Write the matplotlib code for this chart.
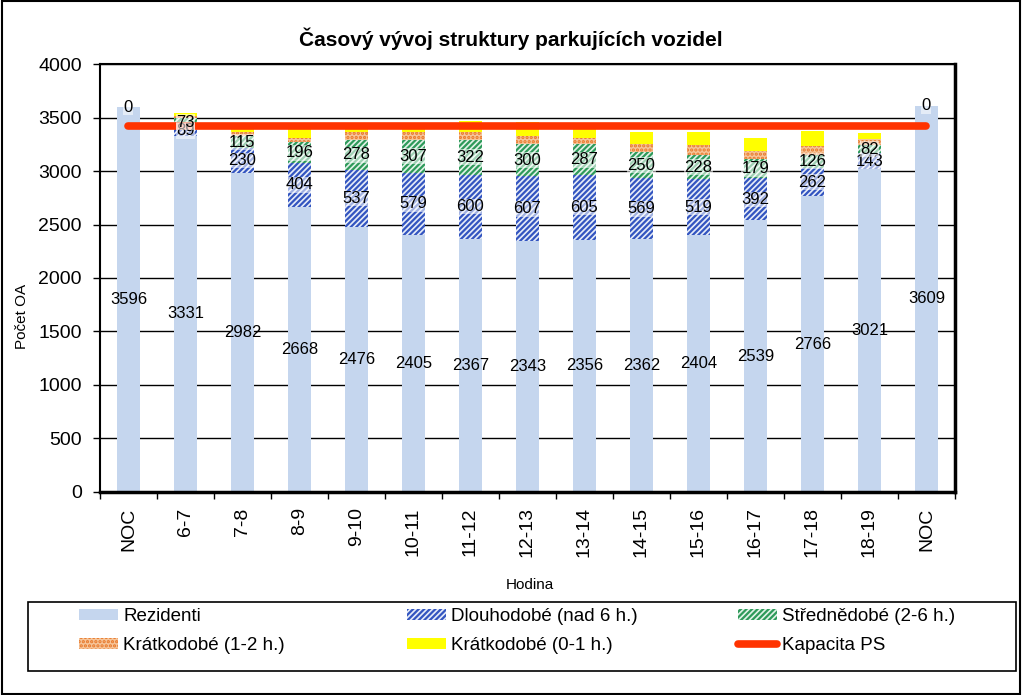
import matplotlib.pyplot as plt
import numpy as np
from matplotlib.patches import Rectangle

plt.rcParams['font.family'] = ['Liberation Sans', 'DejaVu Sans']
plt.rcParams['hatch.linewidth'] = 1.6

# data
hodiny = ["NOC", "6-7", "7-8", "8-9", "9-10", "10-11", "11-12", "12-13", "13-14",
          "14-15", "15-16", "16-17", "17-18", "18-19", "NOC"]
rezidenti = [3596, 3331, 2982, 2668, 2476, 2405, 2367, 2343, 2356, 2362, 2404, 2539, 2766, 3021, 3609]
dlouhodobe = [0, 89, 230, 404, 537, 579, 600, 607, 605, 569, 519, 392, 262, 143, 0]
strednedobe = [0, 73, 115, 196, 278, 307, 322, 300, 287, 250, 228, 179, 126, 82, 0]
kratko_12 = [0, 20, 35, 40, 70, 75, 78, 77, 61, 72, 89, 81, 78, 57, 0]
kratko_01 = [0, 25, 35, 88, 35, 30, 105, 135, 125, 115, 120, 120, 145, 55, 0]
kapacita = [3425] * 15

x = np.arange(len(hodiny))
w = 0.39

fig = plt.figure(figsize=(10.22, 6.95), dpi=100)
ax = fig.add_axes([0.0978, 0.2921, 0.8366, 0.6158])

b0 = np.zeros(len(x))
h1 = ax.bar(x, rezidenti, w, bottom=b0, color='#c5d6ee', linewidth=0, label='Rezidenti', zorder=2)
b1 = b0 + rezidenti
h2 = ax.bar(x, dlouhodobe, w, bottom=b1, color='#e6ecf8', edgecolor='#3355c0', hatch='//////',
            linewidth=0, label='Dlouhodobé (nad 6 h.)', zorder=2)
b2 = b1 + dlouhodobe
h3 = ax.bar(x, strednedobe, w, bottom=b2, color='#e2f2e8', edgecolor='#2e9a5a', hatch='//////',
            linewidth=0, label='Střednědobé (2-6 h.)', zorder=2)
b3 = b2 + strednedobe
h4 = ax.bar(x, kratko_12, w, bottom=b3, color='#f6c59a', edgecolor='#e8782a', hatch='....',
            linewidth=0, label='Krátkodobé (1-2 h.)', zorder=2)
b4 = b3 + kratko_12
h5 = ax.bar(x, kratko_01, w, bottom=b4, color='#ffff00', linewidth=0,
            label='Krátkodobé (0-1 h.)', zorder=2)
h6, = ax.plot(x, kapacita, color='#ff3300', linewidth=5.5, solid_capstyle='round',
              label='Kapacita PS', zorder=4)

box = dict(facecolor='white', alpha=0.55, edgecolor='none', pad=0.3)
for i in x:
    ax.text(i, rezidenti[i] / 2, str(rezidenti[i]), ha='center', va='center', fontsize=12, zorder=5)
    ax.text(i, b1[i] + dlouhodobe[i] / 2, str(dlouhodobe[i]), ha='center', va='center',
            fontsize=12, bbox=box, zorder=5)
    if strednedobe[i] > 0:
        ax.text(i, b2[i] + strednedobe[i] / 2, str(strednedobe[i]), ha='center', va='center',
                fontsize=12, bbox=box, zorder=5)

ax.set_xlim(-0.5, len(x) - 0.5)
ax.set_ylim(0, 4000)
ax.set_yticks(np.arange(0, 4001, 500))
ax.yaxis.grid(True, color='black', linewidth=1)
ax.set_axisbelow(True)
ax.set_xticks(x)
ax.set_xticklabels(hodiny, rotation=90, fontsize=14)
ax.set_xticks(np.arange(-0.5, len(x), 1), minor=True)
ax.tick_params(axis='x', which='major', length=0, pad=11)
ax.tick_params(axis='x', which='minor', length=5, width=1)
ax.tick_params(axis='y', labelsize=14, length=5, width=1, pad=8)
for s in ax.spines.values():
    s.set_linewidth(1.5)
ax.spines['right'].set_linewidth(2.5)
ax.spines['bottom'].set_linewidth(2.5)

fig.text(0.5, 1 - 39 / 695, 'Časový vývoj struktury parkujících vozidel', fontsize=15,
         fontweight='bold', ha='center', va='center')
fig.text(22 / 1022, 1 - 316 / 695, 'Počet OA', fontsize=11, rotation=90, ha='center', va='center')
fig.text(530 / 1022, 1 - 585 / 695, 'Hodina', fontsize=11, ha='center', va='center')

# legend: three columns, two rows
sloupce = [([h1, h4], 79), ([h2, h5], 407), ([h3, h6], 738)]
for hs, px in sloupce:
    leg = fig.legend(hs, [h.get_label() for h in hs], loc='upper left',
                     bbox_to_anchor=(px / 1022, 1 - 608 / 695), frameon=False, fontsize=13.5,
                     borderpad=0, borderaxespad=0, handlelength=2.1, handleheight=0.5,
                     handletextpad=0.25, labelspacing=0.65)
fig.patches.append(Rectangle((28 / 1022, 1 - 671 / 695), 988 / 1022, 69 / 695,
                             transform=fig.transFigure, fill=False, edgecolor='black', linewidth=1.2))

fig.patches.append(Rectangle((0.002, 0.002), 0.996, 0.996, transform=fig.transFigure,
                             fill=False, edgecolor='black', linewidth=1.5))

fig.savefig('out.png', dpi=100)
